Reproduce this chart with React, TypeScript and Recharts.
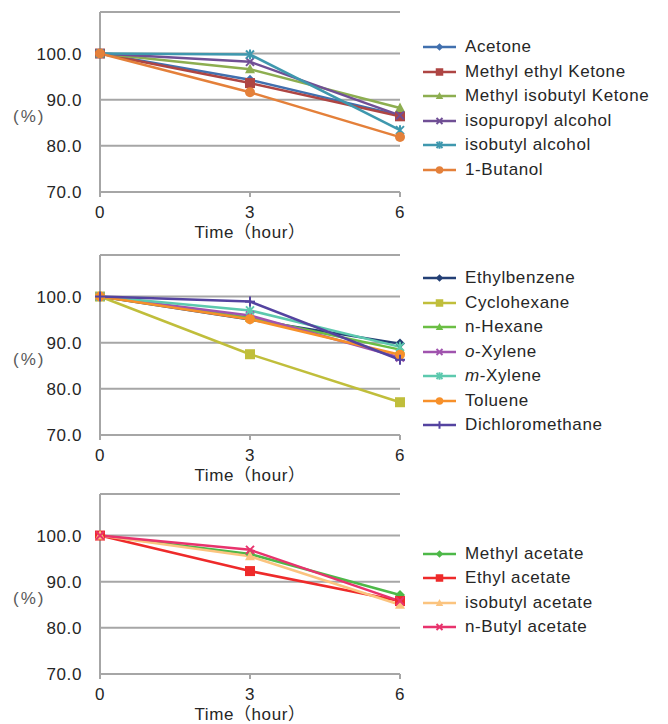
import { LineChart, Line, XAxis, YAxis, CartesianGrid, Legend } from 'recharts';

const FONT = '"Liberation Sans", Arial, "Noto Sans CJK JP", sans-serif';
const GRID = '#A6A6A6';
const INK = '#262626';

const hours = [0, 3, 6];
const yTicks = [70, 80, 90, 100];

// panel 1: ketones / alcohols
const acetone = [100, 94.3, 86.6];
const methylEthylKetone = [100, 93.6, 86.4];
const methylIsobutylKetone = [100, 96.6, 88.2];
const isopuropylAlcohol = [100, 98.2, 86.6];
const isobutylAlcohol = [100, 99.8, 83.4];
const butanol = [100, 91.6, 81.9];

// panel 2: hydrocarbons
const ethylbenzene = [100, 95.0, 89.8];
const cyclohexane = [100, 87.5, 77.1];
const nHexane = [100, 95.4, 88.5];
const oXylene = [100, 95.9, 86.8];
const mXylene = [100, 97.0, 89.1];
const toluene = [100, 95.1, 87.4];
const dichloromethane = [100, 98.9, 86.3];

// panel 3: acetates
const methylAcetate = [100, 96.0, 87.1];
const ethylAcetate = [100, 92.3, 85.8];
const isobutylAcetate = [100, 95.5, 85.0];
const nButylAcetate = [100, 96.9, 85.8];

type Kind = 'diamond' | 'square' | 'triangle' | 'x' | 'star' | 'circle' | 'plus';
type Series = { name: string; color: string; marker: Kind; values: number[] };

const panels: Series[][] = [
  [
    { name: 'Acetone', color: '#4170AE', marker: 'diamond', values: acetone },
    { name: 'Methyl ethyl Ketone', color: '#AE4543', marker: 'square', values: methylEthylKetone },
    { name: 'Methyl isobutyl Ketone', color: '#8DAE50', marker: 'triangle', values: methylIsobutylKetone },
    { name: 'isopuropyl alcohol', color: '#704F95', marker: 'x', values: isopuropylAlcohol },
    { name: 'isobutyl alcohol', color: '#3F98AE', marker: 'star', values: isobutylAlcohol },
    { name: '1-Butanol', color: '#E4803A', marker: 'circle', values: butanol },
  ],
  [
    { name: 'Ethylbenzene', color: '#233F75', marker: 'diamond', values: ethylbenzene },
    { name: 'Cyclohexane', color: '#C0BE3B', marker: 'square', values: cyclohexane },
    { name: 'n-Hexane', color: '#6BBE44', marker: 'triangle', values: nHexane },
    { name: 'o-Xylene', color: '#A053AE', marker: 'x', values: oXylene },
    { name: 'm-Xylene', color: '#5DC9AE', marker: 'star', values: mXylene },
    { name: 'Toluene', color: '#F7902A', marker: 'circle', values: toluene },
    { name: 'Dichloromethane', color: '#5443A0', marker: 'plus', values: dichloromethane },
  ],
  [
    { name: 'Methyl acetate', color: '#4DB848', marker: 'diamond', values: methylAcetate },
    { name: 'Ethyl acetate', color: '#EE2A2A', marker: 'square', values: ethylAcetate },
    { name: 'isobutyl acetate', color: '#FBC47F', marker: 'triangle', values: isobutylAcetate },
    { name: 'n-Butyl acetate', color: '#E8336D', marker: 'x', values: nButylAcetate },
  ],
];

const panelTops = [0, 243, 482];

function Marker({ kind, cx, cy, color, s = 1 }: { kind: Kind; cx: number; cy: number; color: string; s?: number }) {
  const r = 5 * s;
  switch (kind) {
    case 'diamond':
      return <polygon points={`${cx},${cy - r} ${cx + r},${cy} ${cx},${cy + r} ${cx - r},${cy}`} fill={color} />;
    case 'square':
      return <rect x={cx - r} y={cy - r} width={2 * r} height={2 * r} fill={color} />;
    case 'triangle':
      return <polygon points={`${cx},${cy - r * 1.1} ${cx + r},${cy + r * 0.8} ${cx - r},${cy + r * 0.8}`} fill={color} />;
    case 'circle':
      return <circle cx={cx} cy={cy} r={r} fill={color} />;
    case 'x':
      return (
        <g stroke={color} strokeWidth={2}>
          <line x1={cx - r * 0.8} y1={cy - r * 0.8} x2={cx + r * 0.8} y2={cy + r * 0.8} />
          <line x1={cx - r * 0.8} y1={cy + r * 0.8} x2={cx + r * 0.8} y2={cy - r * 0.8} />
        </g>
      );
    case 'star':
      return (
        <g stroke={color} strokeWidth={2}>
          <line x1={cx - r * 0.8} y1={cy - r * 0.8} x2={cx + r * 0.8} y2={cy + r * 0.8} />
          <line x1={cx - r * 0.8} y1={cy + r * 0.8} x2={cx + r * 0.8} y2={cy - r * 0.8} />
          <line x1={cx} y1={cy - r} x2={cx} y2={cy + r} />
        </g>
      );
    case 'plus':
      return (
        <g stroke={color} strokeWidth={2}>
          <line x1={cx - r} y1={cy} x2={cx + r} y2={cy} />
          <line x1={cx} y1={cy - r} x2={cx} y2={cy + r} />
        </g>
      );
  }
  return null;
}

function LegendName({ name }: { name: string }) {
  const m = name.match(/^([om])(-.*)$/);
  if (m) {
    return (
      <span>
        <i>{m[1]}</i>
        {m[2]}
      </span>
    );
  }
  return <span>{name}</span>;
}

function Panel({ series, top }: { series: Series[]; top: number }) {
  const data = hours.map((h, i) => {
    const row: Record<string, number> = { hour: h };
    series.forEach((s) => (row[s.name] = s.values[i]));
    return row;
  });
  const rowH = 24.5;

  return (
    <div style={{ position: 'absolute', left: 0, top, width: 668, height: 242 }}>
      <LineChart width={668} height={242} data={data} margin={{ top: 12, right: 268, bottom: 0, left: 0 }}>
        <CartesianGrid vertical={false} stroke={GRID} strokeWidth={2} />
        <XAxis
          dataKey="hour"
          type="number"
          domain={[0, 6]}
          ticks={hours}
          height={50}
          tickSize={5}
          tickMargin={9}
          axisLine={{ stroke: GRID, strokeWidth: 2 }}
          tickLine={{ stroke: GRID, strokeWidth: 2 }}
          tick={{ fontSize: 17, fill: INK, fontFamily: FONT, letterSpacing: 0.6 }}
          label={{
            value: 'Time（hour）',
            position: 'insideBottom',
            offset: 4,
            style: { fontSize: 17, fill: INK, fontFamily: FONT, letterSpacing: 0.6 },
          }}
        />
        <YAxis
          type="number"
          domain={[70, 109]}
          ticks={yTicks}
          width={100}
          tickSize={0}
          tickMargin={18}
          tickLine={false}
          tickFormatter={(v: number) => v.toFixed(1)}
          axisLine={{ stroke: GRID, strokeWidth: 2 }}
          tick={{ fontSize: 17, fill: INK, fontFamily: FONT, letterSpacing: 0.6 }}
          label={{
            value: '(%)',
            content: (p: any) => (
              <text
                x={p.viewBox.x + 13}
                y={p.viewBox.y + p.viewBox.height * 0.58}
                dominantBaseline="central"
                fontSize={17}
                letterSpacing={2}
                fill="#595959"
                fontFamily={FONT}
              >
                (%)
              </text>
            ),
          }}
        />
        <Legend
          layout="horizontal"
          verticalAlign="middle"
          align="center"
          wrapperStyle={{ left: 423, top: 108.5 - (series.length * rowH) / 2, width: 245, height: 'auto' }}
          content={() => (
            <div style={{ fontFamily: FONT, fontSize: 17, letterSpacing: 0.6, color: INK }}>
              {series.map((s) => (
                <div key={s.name} style={{ height: rowH, display: 'flex', alignItems: 'center', whiteSpace: 'nowrap' }}>
                  <svg width={42} height={14} style={{ flex: 'none' }}>
                    <line x1={0} x2={33} y1={7} y2={7} stroke={s.color} strokeWidth={2.5} />
                    <Marker kind={s.marker} cx={16.5} cy={7} color={s.color} s={0.75} />
                  </svg>
                  <LegendName name={s.name} />
                </div>
              ))}
            </div>
          )}
        />
        {series.map((s) => (
          <Line
            key={s.name}
            type="linear"
            dataKey={s.name}
            stroke={s.color}
            strokeWidth={2.5}
            isAnimationActive={false}
            activeDot={false}
            dot={(p: any) => <Marker key={`${s.name}-${p.index}`} kind={s.marker} cx={p.cx} cy={p.cy} color={s.color} />}
          />
        ))}
      </LineChart>
    </div>
  );
}

export default function App() {
  return (
    <div style={{ position: 'absolute', left: 0, top: 0, width: 668, height: 724, background: '#fff', overflow: 'hidden' }}>
      {panels.map((series, i) => (
        <Panel key={i} series={series} top={panelTops[i]} />
      ))}
    </div>
  );
}
